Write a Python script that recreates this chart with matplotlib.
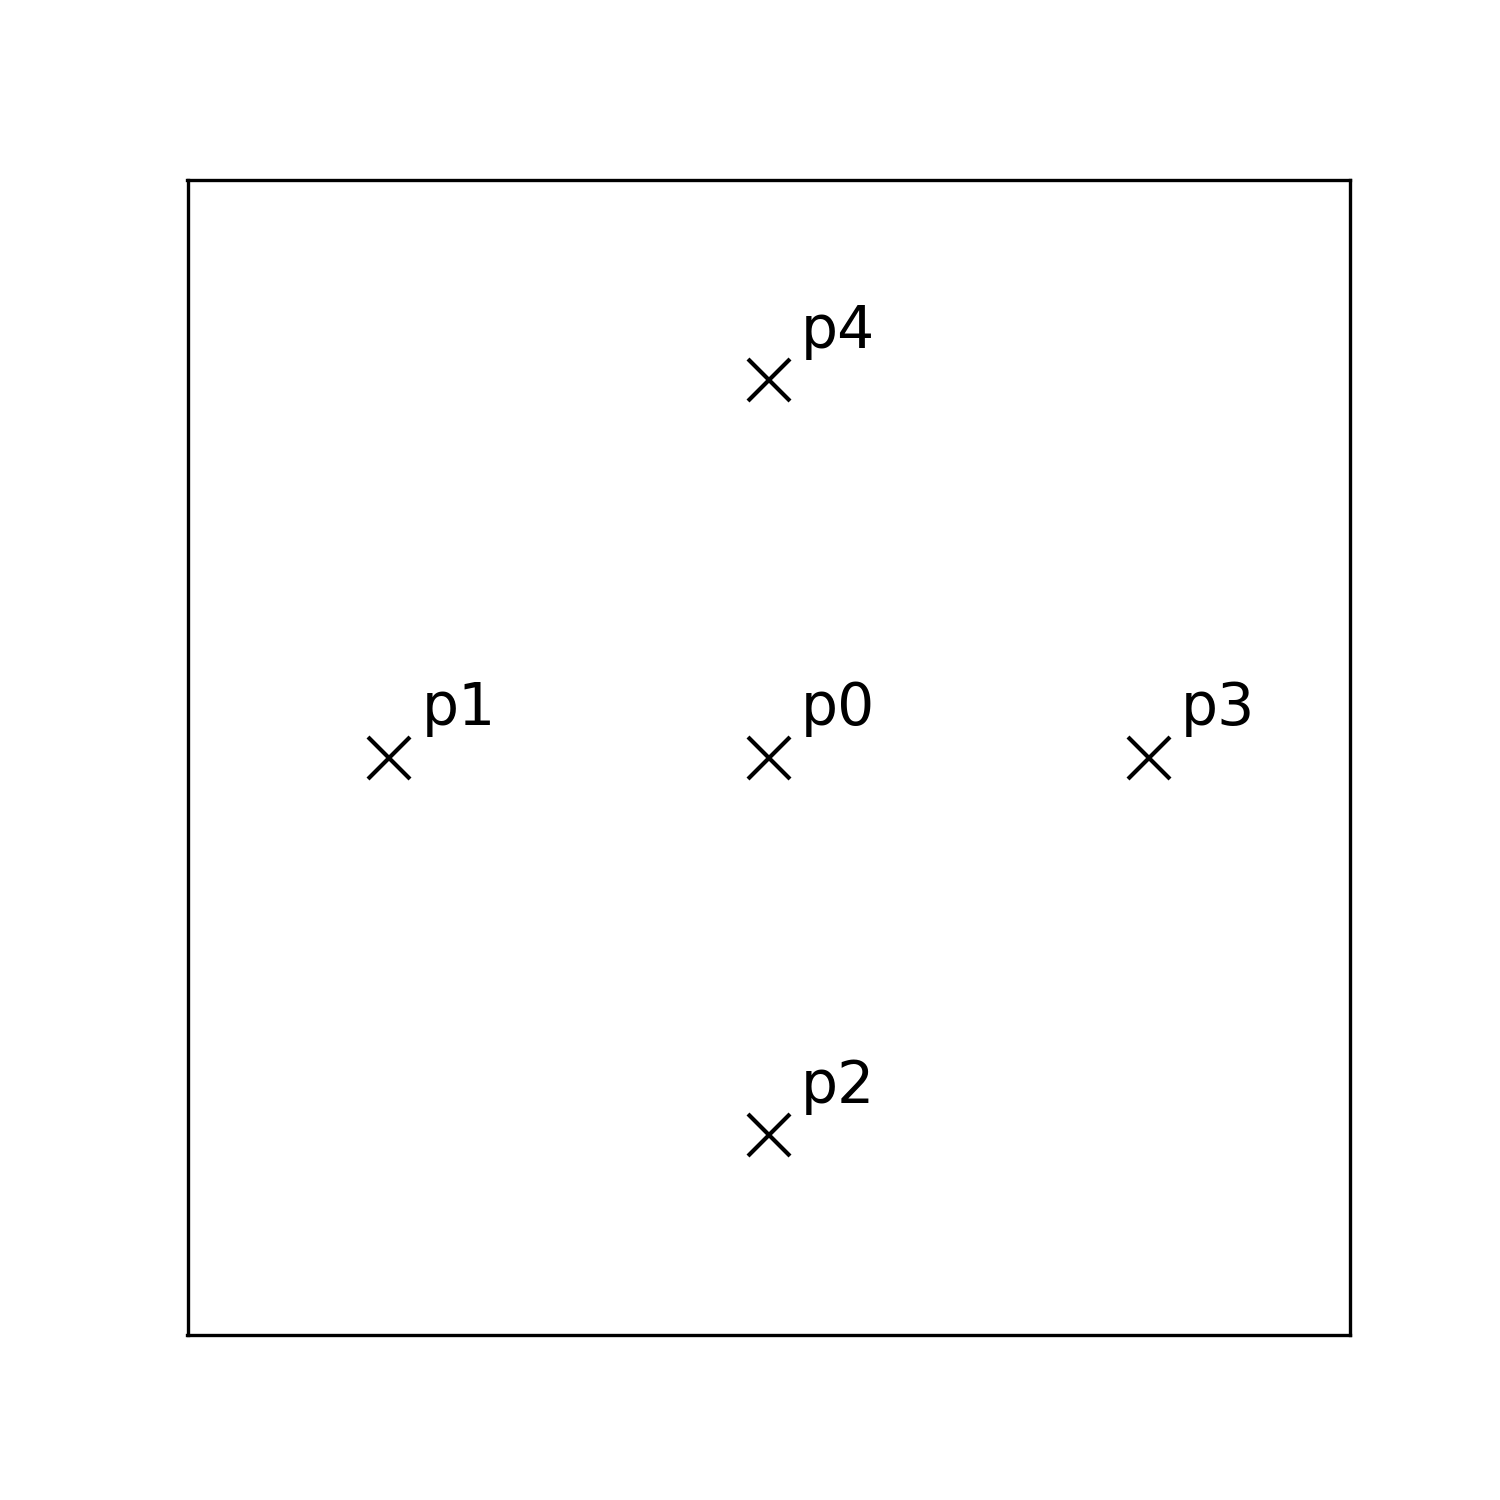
import matplotlib
matplotlib.use("Agg")
import matplotlib.pyplot as plt

labels = ["p0", "p1", "p2", "p3", "p4"]
xs = [0, -1, 0, 1, 0]
ys = [0, 0, -1, 0, 1]

fig, ax = plt.subplots(figsize=(5, 5), dpi=300)
ax.plot(xs, ys, linestyle="none", marker="x", color="black", markersize=10)
for lab, x, y in zip(labels, xs, ys):
    ax.annotate(lab, (x, y), xytext=(7.8, 7.7), textcoords="offset points",
                fontsize=14, color="black")
ax.set_xlim(-1.53, 1.53)
ax.set_ylim(-1.53, 1.53)
ax.set_xticks([])
ax.set_yticks([])
fig.savefig("out.png", dpi=300)
